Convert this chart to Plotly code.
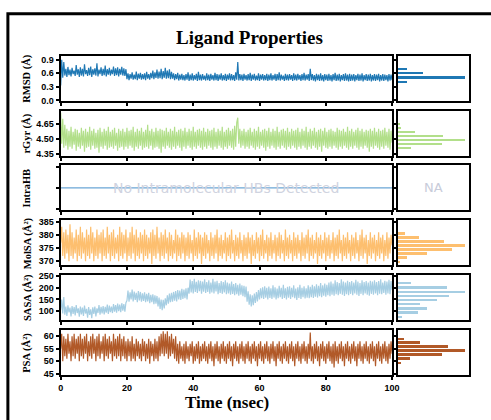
import numpy as np
import plotly.graph_objects as go

# ---------------- data ----------------
time_ns = np.linspace(0, 100, 321)

rmsd = [0.33, 0.90, 0.50, 0.85, 0.55, 0.70, 0.52, 0.74, 0.56, 0.68, 0.53, 0.72, 0.58, 0.66, 0.54, 0.78, 0.57, 0.69, 0.52, 0.73,
        0.55, 0.70, 0.53, 0.80, 0.58, 0.67, 0.54, 0.72, 0.56, 0.75, 0.52, 0.69, 0.57, 0.71, 0.55, 0.82, 0.53, 0.68, 0.58, 0.73,
        0.54, 0.70, 0.56, 0.77, 0.53, 0.69, 0.57, 0.72, 0.55, 0.68, 0.58, 0.75, 0.54, 0.71, 0.56, 0.73, 0.53, 0.70, 0.57, 0.74,
        0.55, 0.71, 0.54, 0.69, 0.47, 0.60, 0.45, 0.58, 0.48, 0.62, 0.46, 0.57, 0.47, 0.64, 0.45, 0.59, 0.48, 0.61, 0.46, 0.58,
        0.47, 0.60, 0.45, 0.63, 0.48, 0.58, 0.46, 0.61, 0.49, 0.66, 0.47, 0.62, 0.50, 0.68, 0.48, 0.64, 0.49, 0.70, 0.47, 0.65,
        0.50, 0.72, 0.48, 0.66, 0.49, 0.69, 0.47, 0.63, 0.48, 0.60, 0.45, 0.58, 0.47, 0.61, 0.44, 0.57, 0.46, 0.59, 0.45, 0.56,
        0.44, 0.58, 0.46, 0.62, 0.43, 0.57, 0.45, 0.60, 0.44, 0.56, 0.46, 0.59, 0.43, 0.63, 0.45, 0.57, 0.44, 0.58, 0.46, 0.55,
        0.44, 0.60, 0.45, 0.57, 0.43, 0.59, 0.46, 0.56, 0.44, 0.61, 0.45, 0.58, 0.43, 0.57, 0.46, 0.60, 0.44, 0.56, 0.45, 0.59,
        0.43, 0.57, 0.46, 0.60, 0.44, 0.58, 0.45, 0.56, 0.43, 0.62, 0.46, 0.85, 0.44, 0.58, 0.45, 0.57, 0.43, 0.59, 0.46, 0.56,
        0.44, 0.58, 0.45, 0.61, 0.43, 0.57, 0.46, 0.59, 0.44, 0.55, 0.45, 0.60, 0.43, 0.57, 0.46, 0.58, 0.44, 0.56, 0.45, 0.59,
        0.43, 0.57, 0.45, 0.60, 0.44, 0.56, 0.46, 0.59, 0.43, 0.58, 0.45, 0.62, 0.44, 0.57, 0.46, 0.55, 0.43, 0.59, 0.45, 0.57,
        0.44, 0.58, 0.46, 0.56, 0.43, 0.60, 0.45, 0.57, 0.44, 0.59, 0.46, 0.56, 0.43, 0.58, 0.45, 0.61, 0.44, 0.57, 0.46, 0.58,
        0.43, 0.70, 0.45, 0.58, 0.44, 0.56, 0.42, 0.59, 0.45, 0.57, 0.43, 0.60, 0.44, 0.56, 0.42, 0.58, 0.45, 0.57, 0.43, 0.59,
        0.44, 0.56, 0.42, 0.58, 0.45, 0.61, 0.43, 0.57, 0.44, 0.59, 0.42, 0.56, 0.45, 0.58, 0.43, 0.60, 0.44, 0.57, 0.42, 0.59,
        0.43, 0.57, 0.44, 0.58, 0.42, 0.56, 0.45, 0.59, 0.43, 0.57, 0.44, 0.60, 0.42, 0.56, 0.45, 0.58, 0.43, 0.57, 0.44, 0.59,
        0.42, 0.56, 0.44, 0.58, 0.43, 0.57, 0.45, 0.59, 0.42, 0.56, 0.44, 0.58, 0.43, 0.57, 0.45, 0.56, 0.42, 0.58, 0.44, 0.57,
        0.45]

rgyr = [4.76, 4.45, 4.70, 4.41, 4.64, 4.43, 4.60, 4.39, 4.58, 4.42, 4.62, 4.40, 4.57, 4.44, 4.60, 4.38, 4.59, 4.42, 4.56, 4.40,
        4.61, 4.43, 4.58, 4.37, 4.60, 4.41, 4.57, 4.42, 4.62, 4.39, 4.58, 4.43, 4.60, 4.40, 4.56, 4.41, 4.59, 4.36, 4.61, 4.42,
        4.57, 4.40, 4.60, 4.43, 4.58, 4.39, 4.62, 4.41, 4.57, 4.42, 4.59, 4.40, 4.61, 4.43, 4.56, 4.38, 4.60, 4.41, 4.58, 4.42,
        4.60, 4.39, 4.57, 4.42, 4.61, 4.40, 4.58, 4.43, 4.59, 4.41, 4.62, 4.38, 4.57, 4.42, 4.60, 4.40, 4.58, 4.43, 4.61, 4.39,
        4.57, 4.41, 4.59, 4.42, 4.64, 4.40, 4.58, 4.43, 4.60, 4.39, 4.57, 4.41, 4.61, 4.42, 4.58, 4.40, 4.60, 4.36, 4.59, 4.42,
        4.58, 4.40, 4.61, 4.43, 4.57, 4.41, 4.60, 4.39, 4.58, 4.42, 4.62, 4.40, 4.57, 4.43, 4.59, 4.41, 4.60, 4.38, 4.58, 4.42,
        4.61, 4.40, 4.57, 4.43, 4.60, 4.41, 4.58, 4.39, 4.62, 4.42, 4.57, 4.40, 4.59, 4.43, 4.60, 4.41, 4.58, 4.39, 4.61, 4.42,
        4.57, 4.40, 4.60, 4.43, 4.58, 4.41, 4.59, 4.39, 4.61, 4.42, 4.57, 4.40, 4.60, 4.43, 4.58, 4.41, 4.62, 4.39, 4.57, 4.42,
        4.59, 4.40, 4.61, 4.43, 4.58, 4.41, 4.60, 4.39, 4.63, 4.42, 4.66, 4.71, 4.45, 4.60, 4.41, 4.58, 4.43, 4.60, 4.40, 4.57,
        4.42, 4.59, 4.40, 4.61, 4.43, 4.57, 4.41, 4.60, 4.39, 4.58, 4.42, 4.62, 4.40, 4.57, 4.43, 4.59, 4.41, 4.60, 4.38, 4.58,
        4.42, 4.61, 4.40, 4.57, 4.43, 4.60, 4.41, 4.58, 4.39, 4.62, 4.42, 4.57, 4.40, 4.59, 4.43, 4.60, 4.41, 4.58, 4.39, 4.61,
        4.42, 4.57, 4.40, 4.60, 4.43, 4.58, 4.41, 4.59, 4.39, 4.61, 4.42, 4.57, 4.40, 4.60, 4.43, 4.58, 4.41, 4.62, 4.39, 4.57,
        4.42, 4.60, 4.40, 4.58, 4.43, 4.61, 4.41, 4.57, 4.39, 4.59, 4.42, 4.60, 4.37, 4.58, 4.43, 4.61, 4.41, 4.57, 4.40, 4.59,
        4.42, 4.60, 4.40, 4.58, 4.43, 4.57, 4.41, 4.61, 4.39, 4.59, 4.42, 4.58, 4.40, 4.60, 4.43, 4.57, 4.41, 4.62, 4.39, 4.58,
        4.42, 4.60, 4.40, 4.57, 4.43, 4.59, 4.41, 4.61, 4.39, 4.58, 4.42, 4.60, 4.40, 4.57, 4.43, 4.59, 4.41, 4.58, 4.37, 4.60,
        4.42, 4.58, 4.40, 4.61, 4.43, 4.57, 4.41, 4.60, 4.39, 4.58, 4.42, 4.59, 4.40, 4.61, 4.43, 4.57, 4.41, 4.60, 4.39, 4.58,
        4.46]

intrahb = np.zeros(len(time_ns))  # no intramolecular H-bonds detected

molsa = [377, 383, 372, 381, 371, 382, 373, 380, 370, 384, 372, 381, 371, 379, 373, 382, 370, 380, 372, 383,
         371, 381, 373, 379, 370, 382, 372, 380, 371, 383, 373, 381, 370, 379, 372, 382, 371, 380, 373, 381,
         370, 382, 372, 379, 371, 383, 373, 380, 370, 381, 372, 382, 371, 379, 373, 380, 370, 383, 372, 381,
         371, 380, 373, 382, 370, 379, 372, 381, 371, 383, 373, 380, 370, 382, 372, 379, 371, 381, 373, 380,
         370, 382, 372, 380, 371, 379, 373, 381, 369, 382, 372, 380, 371, 383, 373, 379, 370, 381, 372, 380,
         371, 382, 373, 379, 370, 381, 372, 380, 371, 378, 373, 382, 370, 380, 372, 379, 371, 381, 373, 380,
         370, 379, 372, 381, 371, 380, 373, 378, 370, 382, 372, 379, 371, 381, 373, 380, 369, 379, 372, 381,
         371, 380, 373, 378, 370, 381, 372, 379, 371, 380, 373, 382, 370, 379, 372, 380, 371, 378, 373, 381,
         370, 379, 372, 380, 371, 382, 373, 378, 370, 380, 372, 379, 371, 381, 373, 378, 370, 380, 372, 379,
         371, 381, 373, 379, 369, 380, 372, 378, 371, 381, 373, 379, 370, 380, 372, 382, 371, 378, 373, 380,
         370, 379, 372, 381, 371, 378, 373, 380, 370, 379, 372, 381, 371, 380, 373, 378, 370, 382, 372, 379,
         371, 380, 373, 378, 370, 381, 372, 379, 371, 380, 373, 378, 370, 381, 372, 379, 371, 380, 373, 382,
         370, 379, 372, 380, 371, 378, 373, 381, 369, 379, 372, 380, 371, 378, 373, 381, 370, 379, 372, 380,
         371, 378, 373, 381, 370, 379, 372, 380, 371, 382, 373, 378, 370, 380, 372, 379, 371, 381, 373, 378,
         370, 380, 372, 379, 371, 381, 373, 378, 370, 380, 372, 382, 371, 379, 373, 380, 369, 378, 372, 381,
         371, 379, 373, 380, 370, 378, 372, 381, 371, 379, 373, 380, 370, 378, 372, 381, 371, 379, 373, 380,
         376]

sasa = [105, 150, 90, 160, 85, 120, 80, 125, 95, 115, 78, 122, 88, 118, 82, 126, 92, 112, 76, 120,
        86, 115, 80, 124, 90, 110, 72, 118, 84, 108, 70, 116, 88, 120, 78, 112, 92, 126, 85, 118,
        90, 122, 86, 118, 94, 128, 88, 124, 96, 120, 92, 130, 98, 126, 94, 132, 100, 128, 96, 134,
        102, 130, 98, 136, 145, 188, 140, 180, 150, 192, 142, 184, 148, 178, 138, 186, 146, 182, 140, 176,
        144, 180, 138, 174, 142, 178, 134, 170, 138, 172, 130, 168, 132, 165, 120, 158, 110, 150, 104, 148,
        112, 155, 125, 168, 132, 175, 138, 178, 140, 182, 145, 186, 142, 190, 150, 188, 148, 195, 152, 192,
        155, 198, 150, 200, 175, 235, 180, 228, 176, 238, 182, 225, 178, 232, 185, 230, 175, 226, 183, 236,
        178, 224, 182, 232, 175, 222, 180, 238, 176, 226, 184, 230, 172, 220, 178, 228, 174, 224, 180, 232,
        172, 222, 176, 218, 170, 226, 174, 216, 168, 220, 172, 212, 166, 218, 170, 210, 164, 208, 160, 205,
        140, 185, 128, 172, 120, 168, 126, 175, 135, 182, 142, 190, 150, 198, 155, 202, 152, 206, 158, 200,
        150, 205, 156, 198, 152, 210, 158, 202, 150, 196, 155, 208, 160, 200, 152, 212, 156, 198, 150, 204,
        158, 206, 152, 200, 160, 210, 155, 196, 148, 202, 156, 212, 152, 200, 160, 206, 154, 198, 158, 210,
        155, 204, 160, 212, 156, 206, 162, 215, 158, 208, 164, 220, 160, 210, 166, 218, 162, 212, 168, 222,
        164, 226, 170, 218, 166, 232, 172, 224, 168, 220, 174, 236, 170, 226, 165, 222, 172, 230, 168, 224,
        174, 228, 168, 222, 176, 234, 170, 226, 165, 220, 174, 232, 168, 224, 176, 228, 170, 222, 166, 230,
        174, 226, 170, 232, 176, 224, 168, 228, 174, 236, 172, 222, 178, 230, 170, 226, 176, 234, 172, 228,
        190]

psa = [55, 61, 50, 60, 52, 59, 51, 61, 53, 58, 50, 60, 52, 61, 51, 59, 53, 60, 50, 61,
       52, 59, 51, 60, 53, 61, 50, 58, 52, 60, 51, 61, 53, 59, 50, 60, 52, 61, 51, 58,
       53, 60, 50, 61, 52, 59, 51, 60, 53, 58, 50, 61, 52, 59, 51, 60, 52, 61, 50, 59,
       52, 60, 51, 58, 50, 59, 52, 58, 50, 60, 51, 57, 50, 59, 52, 58, 51, 57, 50, 59,
       52, 58, 50, 57, 51, 59, 49, 58, 52, 57, 50, 59, 51, 58, 50, 60, 52, 61, 53, 62,
       52, 61, 53, 62, 51, 60, 52, 61, 53, 59, 51, 60, 50, 57, 49, 58, 51, 56, 50, 57,
       49, 58, 51, 56, 50, 57, 52, 58, 49, 56, 50, 57, 51, 58, 49, 56, 50, 57, 51, 58,
       50, 56, 49, 57, 51, 58, 50, 56, 48, 57, 51, 58, 50, 56, 49, 57, 51, 58, 50, 56,
       49, 57, 51, 58, 50, 56, 48, 57, 51, 58, 50, 56, 49, 57, 51, 58, 50, 56, 49, 57,
       51, 58, 50, 56, 49, 57, 51, 58, 50, 56, 48, 57, 51, 58, 50, 56, 49, 57, 51, 58,
       50, 56, 49, 57, 51, 58, 50, 56, 48, 57, 51, 58, 50, 56, 49, 57, 51, 58, 50, 56,
       49, 57, 51, 58, 50, 56, 48, 57, 51, 58, 50, 56, 49, 57, 51, 58, 50, 56, 49, 57,
       51, 61.5, 50, 56, 49, 57, 51, 58, 50, 56, 48, 57, 51, 58, 50, 56, 49, 57, 51, 58,
       50, 56, 49, 57, 47.5, 58, 50, 56, 49, 57, 51, 58, 50, 56, 48, 57, 51, 58, 50, 56,
       49, 57, 51, 58, 50, 56, 48, 57, 51, 58, 50, 56, 49, 57, 51, 58, 50, 56, 49, 57,
       51, 58, 50, 56, 48, 57, 51, 58, 50, 56, 49, 57, 51, 58, 50, 56, 49, 57, 51, 58,
       53]

# histogram bins (centres) and relative counts
rmsd_bins = [0.42, 0.515, 0.61, 0.705]
rmsd_counts = [14, 100, 38, 13]
rgyr_bins = [4.65, 4.61, 4.57, 4.53, 4.49, 4.45, 4.41]
rgyr_counts = [2, 5, 26, 67, 100, 66, 19]
molsa_bins = [380.5, 379.0, 377.5, 375.9, 374.5, 372.9, 371.4, 369.8]
molsa_counts = [11, 32, 68, 100, 80, 44, 13, 3]
sasa_bins = [219.6, 201.3, 183.3, 165.4, 148.8, 130.4, 112.5, 95.8, 76.3]
sasa_counts = [20, 73, 100, 76, 58, 33, 43, 30, 6]
psa_bins = [59.2, 57.7, 56.0, 54.5, 52.9, 51.2, 49.5]
psa_counts = [9, 33, 75, 100, 65, 18, 4]

x_ticks = [0, 20, 40, 60, 80, 100]

# ---------------- figure ----------------
W, H = 491, 420
panels = [
    dict(label="RMSD (Å)", y=rmsd, bins=rmsd_bins, counts=rmsd_counts, color="#1f78b4",
         rng=[-0.01, 0.985], tv=[0.0, 0.3, 0.6, 0.9], fmt=".1f", bw=0.04),
    dict(label="rGyr (Å)", y=rgyr, bins=rgyr_bins, counts=rgyr_counts, color="#b2df8a",
         rng=[4.33, 4.78], tv=[4.35, 4.50, 4.65], fmt=".2f", bw=0.018),
    dict(label="IntraHB", y=intrahb, bins=None, counts=None, color="#6aa6d6",
         rng=[-1.05, 1.05], tv=[-1, 0, 1], fmt="", bw=0),
    dict(label="MolSA (Å²)", y=molsa, bins=molsa_bins, counts=molsa_counts, color="#fdbf6f",
         rng=[368.5, 385.5], tv=[370, 375, 380, 385], fmt="d", bw=0.7),
    dict(label="SASA (Å²)", y=sasa, bins=sasa_bins, counts=sasa_counts, color="#a6cee3",
         rng=[62, 254], tv=[100, 150, 200, 250], fmt="d", bw=8),
    dict(label="PSA (Å²)", y=psa, bins=psa_bins, counts=psa_counts, color="#b15928",
         rng=[44.5, 62.6], tv=[45, 50, 55, 60], fmt="d", bw=0.75),
]

tops = [53, 109, 165, 221, 277, 333]
ph = 46
main_x = [59 / W, 398 / W]
hist_x = [404 / W, 477 / W]

fig = go.Figure()
layout = {}
annotations = []
tickfont = dict(family="Liberation Sans", size=9, color="black", weight="bold")
axis_common = dict(showline=True, linecolor="black", linewidth=2, mirror=True,
                   showgrid=False, zeroline=False)

for r, p in enumerate(panels):
    km, kh = 2 * r + 1, 2 * r + 2
    xm = "x" if km == 1 else f"x{km}"
    ym = "y" if km == 1 else f"y{km}"
    xh, yh = f"x{kh}", f"y{kh}"
    ydom = [1 - (tops[r] + ph) / H, 1 - tops[r] / H]

    fig.add_trace(go.Scatter(x=time_ns, y=p["y"], mode="lines",
                             line=dict(color=p["color"], width=1.2),
                             xaxis=xm, yaxis=ym, showlegend=False, hoverinfo="skip"))
    if p["bins"] is not None:
        fig.add_trace(go.Bar(x=p["counts"], y=p["bins"], orientation="h", width=p["bw"],
                             marker=dict(color=p["color"], line=dict(width=0)),
                             xaxis=xh, yaxis=yh, showlegend=False, hoverinfo="skip"))

    last = r == len(panels) - 1
    layout["xaxis" if km == 1 else f"xaxis{km}"] = dict(
        axis_common, domain=main_x, anchor=ym, range=[0, 100], tickvals=x_ticks,
        ticks="outside", ticklen=3, tickwidth=1.5, tickcolor="black",
        showticklabels=last, tickfont=tickfont)
    ymain = dict(axis_common, domain=ydom, anchor=xm, range=p["rng"], tickvals=p["tv"],
                 ticks="outside", ticklen=3, tickwidth=1.5, tickcolor="black",
                 tickfont=tickfont, showticklabels=(p["fmt"] != ""))
    if p["fmt"]:
        ymain["tickformat"] = p["fmt"]
    layout["yaxis" if km == 1 else f"yaxis{km}"] = ymain
    layout[f"xaxis{kh}"] = dict(axis_common, domain=hist_x, anchor=yh, range=[0, 106.5],
                                showticklabels=False, ticks="")
    layout[f"yaxis{kh}"] = dict(axis_common, domain=ydom, anchor=xh, range=p["rng"],
                                tickvals=p["tv"], ticks="outside", ticklen=3, tickwidth=1.5,
                                tickcolor="black", showticklabels=False)

    annotations.append(dict(text=p["label"], x=25 / W, y=(ydom[0] + ydom[1]) / 2,
                            xref="paper", yref="paper", textangle=-90, showarrow=False,
                            xanchor="center", yanchor="middle",
                            font=dict(family="Liberation Serif", size=10.5, color="black",
                                      weight="bold")))

annotations.append(dict(text="No Intramolecular HBs Detected", x=50, y=0, xref="x5", yref="y5",
                        showarrow=False, font=dict(family="DejaVu Sans", size=14, color="#cfd3e0")))
annotations.append(dict(text="NA", x=53, y=0, xref="x6", yref="y6",
                        showarrow=False, font=dict(family="DejaVu Sans", size=13, color="#c8ccda")))
annotations.append(dict(text="Ligand Properties", x=252 / W, y=1 - 34 / H, xref="paper", yref="paper",
                        showarrow=False, xanchor="center", yanchor="middle",
                        font=dict(family="Liberation Serif", size=19, color="black", weight="bold")))
annotations.append(dict(text="Time (nsec)", x=229 / W, y=1 - 397 / H, xref="paper", yref="paper",
                        showarrow=False, xanchor="center", yanchor="top", borderpad=0,
                        font=dict(family="Liberation Serif", size=17, color="black", weight="bold")))

fig.update_layout(
    width=W, height=H, margin=dict(l=0, r=0, t=0, b=0),
    paper_bgcolor="white", plot_bgcolor="white",
    annotations=annotations, bargap=0,
    shapes=[dict(type="rect", xref="paper", yref="paper", x0=5 / W, x1=1.2,
                 y0=-0.2, y1=1 - 10 / H, line=dict(color="black", width=3), layer="above")],
    **layout,
)

fig.write_html("out.html", config={"displayModeBar": False},
               post_script="document.body.style.margin='0px';document.body.style.overflow='hidden';")
